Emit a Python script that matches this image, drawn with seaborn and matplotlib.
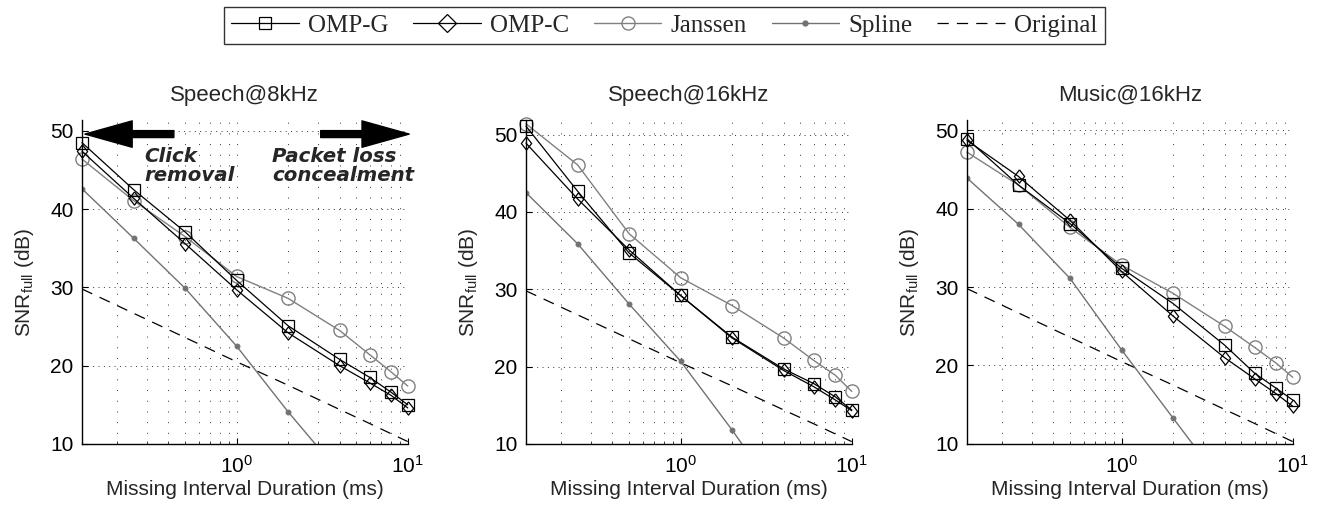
import numpy as np
import pandas as pd
import matplotlib
matplotlib.use("Agg")
import matplotlib.pyplot as plt
import seaborn as sns
from matplotlib.lines import Line2D

# missing interval durations (ms)
durations = [0.125, 0.25, 0.5, 1, 2, 4, 6, 8, 10]
spline_durations = [0.125, 0.25, 0.5, 1, 2, 4]

titles = ["Speech@8kHz", "Speech@16kHz", "Music@16kHz"]

omp_g = [
    [48.5, 42.5, 37.1, 30.9, 25.1, 20.8, 18.5, 16.6, 15.0],
    [51.1, 42.7, 34.7, 29.2, 23.8, 19.7, 17.8, 16.1, 14.4],
    [48.9, 43.0, 38.1, 32.4, 27.9, 22.6, 19.0, 17.1, 15.6],
]
omp_c = [
    [47.4, 41.4, 35.6, 29.7, 24.2, 20.0, 17.8, 16.2, 14.6],
    [48.9, 41.7, 35.1, 29.2, 23.7, 19.5, 17.4, 15.7, 14.3],
    [48.7, 44.1, 38.5, 32.0, 26.3, 21.0, 18.3, 16.4, 14.8],
]
janssen = [
    [46.4, 41.1, 36.5, 31.4, 28.6, 24.5, 21.4, 19.2, 17.4],
    [51.4, 46.1, 37.2, 31.5, 27.9, 23.7, 20.8, 18.9, 16.8],
    [47.2, 43.0, 37.6, 32.8, 29.2, 25.0, 22.3, 20.3, 18.5],
]
spline = [
    [42.6, 36.3, 29.9, 22.5, 14.1, 6.3],
    [42.5, 35.9, 28.1, 20.7, 11.8, 2.3],
    [43.9, 38.0, 31.1, 22.0, 13.3, 4.6],
]
original = [29.8, 26.7, 23.6, 20.5, 17.5, 14.4, 12.6, 11.3, 10.3]

y_tops = [51.4, 51.9, 51.3]

sns.set_style("ticks")
plt.rcParams["font.family"] = ["Liberation Sans", "DejaVu Sans"]
plt.rcParams["mathtext.default"] = "regular"

fig = plt.figure(figsize=(13.23, 5.15), dpi=100)

lefts = [0.062, 0.3976, 0.7309]
axes = [fig.add_axes([l, 0.138, 0.2462, 0.629]) for l in lefts]

gray = "#808080"
sgray = "#727272"
# slightly narrow diamond, like the one in the plots
diamond = [(0, 1), (0.78, 0), (0, -1), (-0.78, 0), (0, 1)]
dash = (0, (9, 6.5))

for i, ax in enumerate(axes):
    df = pd.DataFrame({
        "dur": durations,
        "omp_g": omp_g[i],
        "omp_c": omp_c[i],
        "janssen": janssen[i],
        "original": original,
    })
    sp = pd.DataFrame({"dur": spline_durations, "spline": spline[i]})

    sns.lineplot(data=df, x="dur", y="original", ax=ax, color="black",
                 linewidth=0.9, linestyle=dash)
    sns.lineplot(data=sp, x="dur", y="spline", ax=ax, color=sgray,
                 linewidth=1.0, marker="o", markersize=3.5,
                 markeredgecolor=sgray)
    sns.lineplot(data=df, x="dur", y="janssen", ax=ax, color=gray,
                 linewidth=1.0, marker="o", markersize=9.5,
                 markerfacecolor="none", markeredgecolor=gray,
                 markeredgewidth=1.0, clip_on=False)
    sns.lineplot(data=df, x="dur", y="omp_c", ax=ax, color="black",
                 linewidth=0.9, marker=diamond, markersize=9.5,
                 markerfacecolor="none", markeredgecolor="black",
                 markeredgewidth=0.9, clip_on=False)
    sns.lineplot(data=df, x="dur", y="omp_g", ax=ax, color="black",
                 linewidth=0.9, marker="s", markersize=8,
                 markerfacecolor="none", markeredgecolor="black",
                 markeredgewidth=0.9, clip_on=False)

    ax.set_xscale("log")
    ax.set_xlim(0.125, 10)
    ax.set_ylim(10, y_tops[i])
    ax.set_yticks([10, 20, 30, 40, 50])

    ax.grid(which="both", axis="x", color="black", linewidth=0.7,
            linestyle=(0, (1, 10)), alpha=0.8)
    ax.grid(which="major", axis="y", color="black", linewidth=0.7,
            linestyle=(0, (1, 4.5)), alpha=0.8)

    sns.despine(ax=ax)
    for s in ["left", "bottom"]:
        ax.spines[s].set_linewidth(1.0)
        ax.spines[s].set_color("black")
    ax.tick_params(which="major", direction="in", length=4, width=0.8,
                   labelsize=15, colors="black", pad=6)
    ax.tick_params(which="minor", direction="in", length=2.5, width=0.6)
    ax.tick_params(axis="x", pad=8)

    ax.set_title(titles[i], fontsize=16, pad=14)
    ax.set_xlabel("Missing Interval Duration (ms)", fontsize=15, labelpad=2)
    ax.set_ylabel(r"SNR$_{\mathdefault{full}}$ (dB)", fontsize=15, labelpad=10)

# arrows and annotations in first panel
ax = axes[0]
arrow_kw = dict(arrowstyle="simple,head_length=34,head_width=19,tail_width=5",
                color="black", mutation_scale=1, shrinkA=0, shrinkB=0)
ax.annotate("", xy=(0.13, 49.6), xytext=(0.43, 49.6), arrowprops=arrow_kw,
            annotation_clip=False)
ax.annotate("", xy=(10.2, 49.6), xytext=(3.1, 49.6), arrowprops=arrow_kw,
            annotation_clip=False)
ax.text(0.29, 48.0, "Click\nremoval", family="DejaVu Sans", fontsize=14.2,
        fontweight="bold", fontstyle="italic", va="top", ha="left",
        linespacing=1.05)
ax.text(1.62, 48.0, "Packet loss\nconcealment", family="DejaVu Sans",
        fontsize=14.2, fontweight="bold", fontstyle="italic", va="top",
        ha="left", linespacing=1.05)

# shared legend
handles = [
    Line2D([], [], color="black", lw=0.9, marker="s", ms=8.5, mfc="none", mew=0.9),
    Line2D([], [], color="black", lw=0.9, marker="D", ms=9, mfc="none", mew=0.9),
    Line2D([], [], color=gray, lw=1.0, marker="o", ms=9.4, mfc="none", mew=1.0),
    Line2D([], [], color=sgray, lw=1.0, marker="o", ms=3.5),
    Line2D([], [], color="black", lw=0.9, linestyle=dash),
]
labels = ["OMP-G", "OMP-C", "Janssen", "Spline", "Original"]
leg = fig.legend(handles, labels, loc="upper center", ncol=5,
                 bbox_to_anchor=(0.502, 0.987), frameon=True, fancybox=False,
                 prop={"family": ["Liberation Serif", "DejaVu Serif"], "size": 18},
                 handlelength=2.7, columnspacing=1.0, handletextpad=0.36,
                 borderpad=0.3, borderaxespad=0, numpoints=1)
leg.get_frame().set_edgecolor("black")
leg.get_frame().set_linewidth(1.0)

fig.savefig("out.png", dpi=100)
